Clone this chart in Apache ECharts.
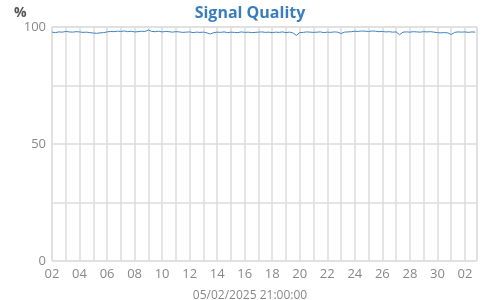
<!DOCTYPE html>
<html><head><meta charset="utf-8">
<script src="https://cdn.jsdelivr.net/npm/echarts@6/dist/echarts.min.js"></script>
<style>html,body{margin:0;padding:0;background:#fff}#c{width:500px;height:300px}</style>
</head><body><div id="c"></div>
<script>
var title = 'Signal Quality';
var yUnit = '%';
var xAxisName = '05/02/2025 21:00:00';
var startDate = '2025-04-02T00:00:00';
var stepHours = 6;
var endOffsetDays = 30.875;
var yTicks = [0, 25, 50, 75, 100];
var yLabelTicks = [0, 50, 100];
// 6-hourly signal quality values starting 2025-04-02 00:00
var quality = [
  97.8, 97.6, 97.9, 97.8,  98.1, 97.9, 97.8, 98.0,  97.9, 97.7, 97.8, 97.6,
  97.4, 97.3, 97.5, 97.6,  97.9, 98.1, 98.0, 98.2,  98.1, 98.3, 98.0, 98.2,
  97.9, 98.0, 98.2, 98.1,  98.7, 98.1, 98.0, 98.2,  97.9, 98.1, 98.0, 97.8,
  98.0, 97.9, 97.7, 97.8,  97.9, 97.6, 97.8, 97.7,  97.8, 97.5, 97.0, 97.6,
  97.8, 97.7, 97.9, 97.6,  97.8, 97.7, 97.6, 97.9,  97.7, 97.8, 97.6, 97.7,
  97.8, 97.9, 97.7, 97.8,  97.6, 97.8, 97.7, 97.9,  97.6, 97.8, 97.5, 96.4,
  97.6, 97.7, 97.9, 97.8,  97.7, 97.8, 97.9, 97.6,  97.8, 97.7, 97.9, 97.8,
  97.2, 97.8, 97.9, 98.0,  98.2, 98.1, 98.3, 98.2,  98.1, 98.3, 98.2, 98.0,
  98.1, 97.9, 98.0, 97.8,  97.9, 96.7, 97.8, 97.9,  97.8, 98.0, 97.9, 97.8,
  98.0, 97.9, 98.0, 97.8,  97.6, 97.5, 97.6, 97.5,  96.8, 97.7, 97.9, 97.8,
  97.9, 97.7, 97.9, 97.8
];
var startMs = new Date(startDate).getTime();
var points = quality.map(function (v, i) { return [i * stepHours / 24, v]; });
function dayLabel(v) {
  if (Math.abs(v - Math.round(v)) > 1e-6) return '';
  var r = Math.round(v);
  if (r % 2 !== 0) return '';
  var d = new Date(startMs + r * 86400000);
  var dd = d.getDate();
  return (dd < 10 ? '0' : '') + dd;
}
var font = '"Open Sans", sans-serif';
var chart = echarts.init(document.getElementById('c'), null, {renderer: 'canvas'});
chart.setOption({
  animation: false,
  title: [
    {text: title, left: 'center', top: 0,
     textStyle: {color: '#3a7dbd', fontSize: 16, fontWeight: 'bold', fontFamily: font}},
    {text: yUnit, left: 9, top: 1,
     textStyle: {color: '#555', fontSize: 14, fontWeight: 'bold', fontFamily: font}},
    {text: xAxisName, left: 'center', top: 285,
     textStyle: {color: '#888', fontSize: 12, fontWeight: 'normal', fontFamily: font}}
  ],
  grid: {left: 52, right: 23, top: 27, bottom: 39, show: true, borderColor: '#ddd', borderWidth: 1,
         containLabel: false, outerBoundsMode: 'none'},
  xAxis: {
    type: 'value', min: 0, max: endOffsetDays, interval: 1,
    axisLine: {show: false}, axisTick: {show: false},
    axisLabel: {color: '#888', fontSize: 13, fontFamily: font, margin: 7, interval: 0,
      showMaxLabel: false, formatter: dayLabel},
    splitLine: {show: true, lineStyle: {color: '#ddd', width: 1.5}}
  },
  yAxis: {
    type: 'value', min: yTicks[0], max: yTicks[yTicks.length - 1], interval: 25,
    axisLine: {show: false}, axisTick: {show: false},
    axisLabel: {color: '#888', fontSize: 13, fontFamily: font, margin: 6,
      formatter: function (v) { return yLabelTicks.indexOf(v) >= 0 ? String(v) : ''; }},
    splitLine: {show: true, lineStyle: {color: '#ddd', width: 1.5}}
  },
  series: [{
    type: 'line', data: points, showSymbol: false,
    lineStyle: {color: '#3f82c0', width: 1}
  }]
});
</script></body></html>
